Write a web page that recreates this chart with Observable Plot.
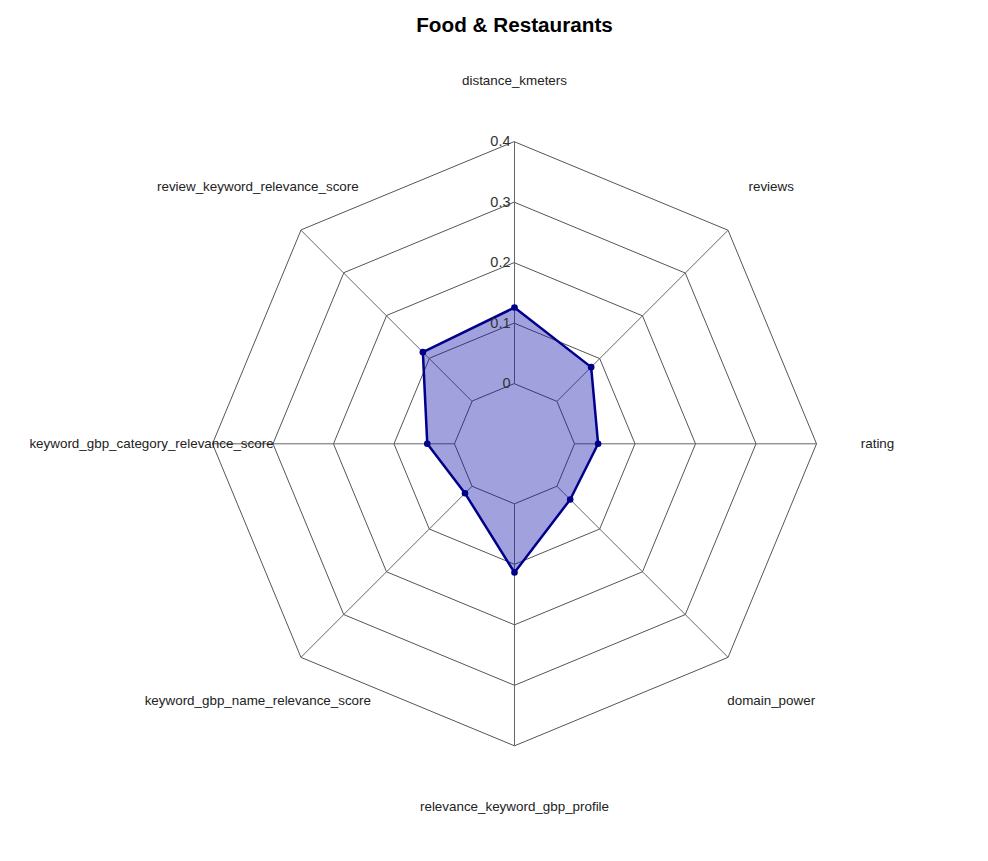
<!DOCTYPE html>
<html><head><meta charset="utf-8">
<script src="https://cdn.jsdelivr.net/npm/d3@7"></script>
<script src="https://cdn.jsdelivr.net/npm/@observablehq/plot@0.6"></script>
<style>
body{margin:0;background:#fff;font-family:"Liberation Sans",Arial,sans-serif;}
#title{position:relative;height:50px;width:988px;}
#title span{position:absolute;left:514.5px;top:25px;transform:translate(-50%,-50%);font-weight:bold;font-size:20.7px;color:#000;white-space:nowrap}
#chart svg{display:block}
</style></head><body>
<div id="title"><span>Food &amp; Restaurants</span></div>
<div id="chart"></div>
<script>
const axesNames = [
  "distance_kmeters",
  "reviews",
  "rating",
  "domain_power",
  "relevance_keyword_gbp_profile",
  "keyword_gbp_name_relevance_score",
  "keyword_gbp_category_relevance_score",
  "review_keyword_relevance_score"
];
const values = [0.126, 0.080, 0.039, 0.031, 0.1135, 0.0165, 0.045, 0.115];
const ticks = [0, 0.1, 0.2, 0.3, 0.4];
const tickLabels = ["0", "0.1", "0.2", "0.3", "0.4"];

const hole = 0.0992;       // radial offset of the "0" ring (value units)
const labelRadius = 0.6;   // radial position of axis labels (value units)
const n = axesNames.length;
const ang = i => i * 2 * Math.PI / n;
const px = (r, i) => r * Math.sin(ang(i));
const py = (r, i) => r * Math.cos(ang(i));

const rings = ticks.flatMap(t => axesNames.map((a, i) => ({t, i})));
const spokes = axesNames.map((a, i) => ({i}));
const series = values.map((v, i) => ({v, i, name: axesNames[i]}));
const tickData = ticks.map((t, k) => ({t, label: tickLabels[k]}));
const labelData = axesNames.map((a, i) => ({a, i}));

const W = 988, H = 811, cx = 514, cy = 393.3, k = 605;

const chart = Plot.plot({
  width: W, height: H,
  margin: 0,
  style: {fontFamily: '"Liberation Sans", Arial, sans-serif', background: "#fff"},
  x: {domain: [-cx / k, (W - cx) / k], range: [0, W], axis: null},
  y: {domain: [-(H - cy) / k, cy / k], range: [H, 0], axis: null},
  marks: [
    Plot.line(rings, {
      x: d => px(hole + d.t, d.i), y: d => py(hole + d.t, d.i), z: "t",
      curve: "linear-closed", stroke: "#555", strokeWidth: 1
    }),
    Plot.link(spokes, {
      x1: d => px(hole, d.i), y1: d => py(hole, d.i),
      x2: d => px(hole + 0.4, d.i), y2: d => py(hole + 0.4, d.i),
      stroke: "#666", strokeWidth: 1
    }),
    Plot.line(series, {
      x: d => px(hole + d.v, d.i), y: d => py(hole + d.v, d.i),
      curve: "linear-closed", fill: "#1414ac", fillOpacity: 0.4, stroke: "none"
    }),
    Plot.line(series, {
      x: d => px(hole + d.v, d.i), y: d => py(hole + d.v, d.i),
      curve: "linear-closed", stroke: "#00008b", strokeWidth: 2.5
    }),
    Plot.dot(series, {
      x: d => px(hole + d.v, d.i), y: d => py(hole + d.v, d.i),
      r: 3.3, fill: "#00008b"
    }),
    Plot.text(tickData, {
      x: 0, y: d => hole + d.t, text: "label",
      textAnchor: "end", dx: -4, fontSize: 14.5, fill: "#333"
    }),
    Plot.text(labelData, {
      x: d => px(labelRadius, d.i), y: d => py(labelRadius, d.i), text: "a",
      textAnchor: "middle", fontSize: 13.4, fill: "#222"
    })
  ]
});
document.getElementById("chart").appendChild(chart);
</script>
</body></html>
